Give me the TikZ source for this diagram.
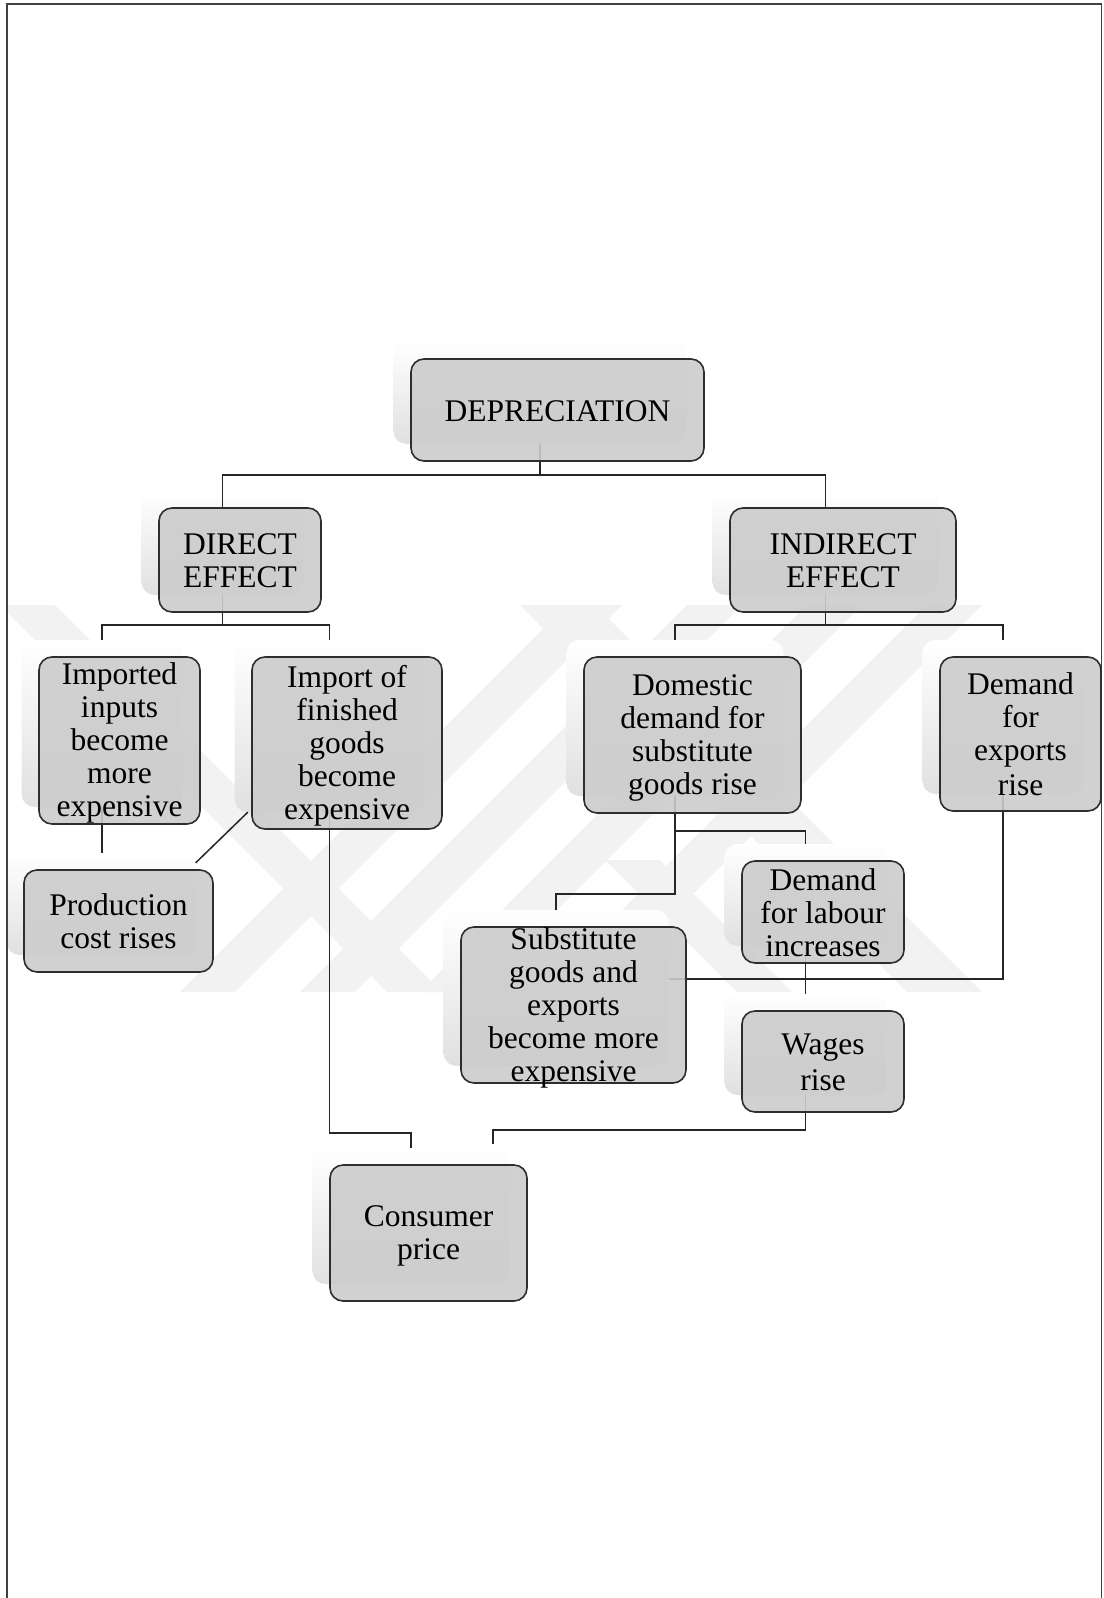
\documentclass[tikz,border=0pt]{standalone}
\usepackage{fontspec}
\setmainfont{Liberation Serif}
\usetikzlibrary{calc}
\pgfdeclarelayer{wm}
\pgfdeclarelayer{shd}
\pgfdeclarelayer{conn}
\pgfsetlayers{wm,shd,conn,main}
\newcommand\lstrut{\rule[-5.5pt]{0pt}{33pt}}
\tikzset{
  boxshape/.style={draw=black!82, line width=1.6pt, fill=black!20, fill opacity=0.9, rounded corners=13pt, inner sep=0pt},
  shad/.style={rounded corners=13pt, inner sep=0pt, top color=white, middle color=white, bottom color=black!12, draw=none},
  txt/.style={align=center, inner sep=0pt, font=\fontsize{31.5}{33}\selectfont},
  conn/.style={draw=black!85, line width=1.5pt},
  framestyle/.style={draw=black!75, line width=1.2pt},
  wmark/.style={fill=black!5},
}
\newcommand\mkbox[6]{%
  \node[boxshape, minimum width=#4pt, minimum height=#5pt] (#1) at (#2,#3) {};
  \node[txt] (#1t) at (#1.center) {\lstrut#6\lstrut};
  \begin{pgfonlayer}{shd}
    \node[shad, minimum width=#4pt, minimum height=#5pt] (#1S) at ([shift={(-17.5,-17)}]#1.center) {};
  \end{pgfonlayer}}
\begin{document}
\begin{tikzpicture}[x=1pt, y=-1pt]
\useasboundingbox (0,0) rectangle (1103,1598);
\begin{pgfonlayer}{wm}
\fill[white] (0,0) rectangle (1103,1598);
\begin{scope}
\clip (7,605) rectangle (1101,992);
\foreach \a in {180,300,420,540}{
  \fill[wmark] (\a,992) -- ++(55,0) -- ++(387,-387) -- ++(-55,0) -- cycle;
}
\fill[wmark] (0,605) -- ++(55,0) -- ++(387,387) -- ++(-55,0) -- cycle;
\fill[wmark] (605,860) -- ++(55,0) -- ++(132,132) -- ++(-55,0) -- cycle;
\fill[wmark] (520,605) -- ++(75,0) -- ++(387,387) -- ++(-75,0) -- cycle;
\end{scope}
\end{pgfonlayer}
\draw[framestyle] (7,1598) -- (7,4) -- (1101.5,4) -- (1101.5,1598);

\mkbox{dep}{557.5}{410}{293}{102}{DEPRECIATION}
\mkbox{direct}{240}{560}{162}{104}{DIRECT\\EFFECT}
\mkbox{indirect}{843}{560}{226}{104}{INDIRECT\\EFFECT}
\mkbox{inputs}{119.5}{740.5}{161}{167}{Imported\\inputs\\become\\more\\expensive}
\mkbox{finished}{347}{743}{190}{172}{Import of\\finished\\goods\\become\\expensive}
\mkbox{domestic}{692.5}{735}{217}{156}{Domestic\\demand for\\substitute\\goods rise}
\mkbox{exports}{1020.5}{734}{161}{154}{Demand\\for\\exports\\rise}
\mkbox{production}{118.5}{921}{189}{102}{Production\\cost rises}
\mkbox{substitute}{573.5}{1005}{225}{156}{Substitute\\goods and\\exports\\become more\\expensive}
\mkbox{labour}{823}{912}{162}{102}{Demand\\for labour\\increases}
\mkbox{wages}{823}{1061.5}{162}{101}{Wages\\rise}
\mkbox{consumer}{428.5}{1233}{197}{136}{Consumer\\price}

\begin{pgfonlayer}{conn}
\draw[conn] (depS.south) -- ++(0,31) -| (directS.center |- direct.north);
\draw[conn] (depS.south) -- ++(0,31) -| (indirectS.center |- indirect.north);
\draw[conn] (directS.south) -- ++(0,30) -| (inputsS.north);
\draw[conn] (directS.south) -- ++(0,30) -| (finishedS.north);
\draw[conn] (indirectS.south) -- ++(0,30) -| (domesticS.north);
\draw[conn] (indirectS.south) -- ++(0,30) -| (exportsS.north);
\draw[conn] (inputsS.south) -- (inputsS.south |- productionS.north);
\draw[conn] ([shift={(13.5,0)}]finishedS.south west) -- ([shift={(0,10)}]productionS.north east);
\draw[conn] (finishedS.south) |- ([shift={(0,-15)}]consumerS.north) -- (consumerS.north);
\draw[conn] (wagesS.south) -- ++(0,35) -| ([shift={(82,-4)}]consumerS.north);
\draw[conn] (domesticS.south) -- ++(0,35) -| (labourS.north);
\draw[conn] (domesticS.south) |- ([shift={(0,-16)}]substituteS.north) -- (substituteS.north);
\draw[conn] (labourS.south) -- (wagesS.north);
\draw[conn] (exportsS.south) |- ([shift={(0,-9)}]substituteS.east);
\end{pgfonlayer}
\end{tikzpicture}
\end{document}
